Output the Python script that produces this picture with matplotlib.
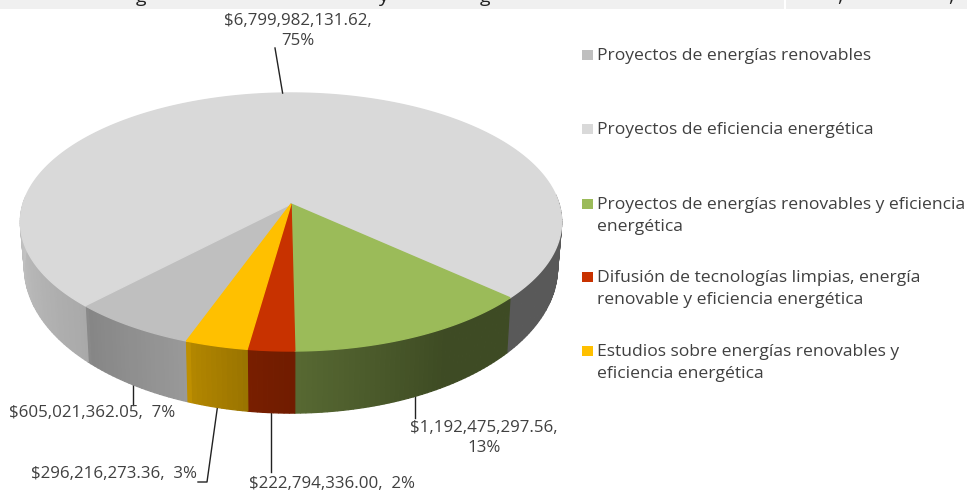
import numpy as np
import matplotlib
matplotlib.use('Agg')
import matplotlib.pyplot as plt
from matplotlib.patches import Rectangle
from matplotlib.colors import to_rgb

plt.rcParams['font.family'] = ['Open Sans', 'DejaVu Sans']

names = ['Proyectos de energías renovables',
         'Proyectos de eficiencia energética',
         'Proyectos de energías renovables y eficiencia\nenergética',
         'Difusión de tecnologías limpias, energía\nrenovable y eficiencia energética',
         'Estudios sobre energías renovables y\neficiencia energética']
values = [605021362.05, 6799982131.62, 1192475297.56, 222794336.00, 296216273.36]
labels = ['$605,021,362.05,  7%', '$6,799,982,131.62,\n75%', '$1,192,475,297.56,\n13%',
          '$222,794,336.00,  2%', '$296,216,273.36,  3%']
colors = ['#BFBFBF', '#D9D9D9', '#9BBB59', '#C83200', '#FFC000']

# pie geometry in pixels
cx, cy = 291, 204
b, a, k = 268, 126.5, 0.1395
start = 199.8   # clockwise from the back

# side brightness against angle
shade_ang = [80, 105, 132, 133, 150, 179, 188, 199, 200, 223, 224, 270, 285]
shade_val = [.42, .41, .41, .40, .40, .56, .60, .70, .80, .70, .78, .90, .90]


def top_xy(deg):
    t = np.radians(deg)
    u, v = np.sin(t), np.cos(t)
    return cx + b * u / (1 + k * v), cy - a * v / (1 + k * v)


def bot_xy(deg):
    x, y = top_xy(deg)
    return cx + (x - cx) * .985, cy + 43 + (y - cy) * 1.13


fig = plt.figure(figsize=(9.67, 4.93), dpi=100)
ax = fig.add_axes([0, 0, 1, 1])
ax.set_xlim(0, 967)
ax.set_ylim(493, 0)
ax.axis('off')

# strip of the page above the chart
ax.add_patch(Rectangle((0, 0), 784, 9, fc='#F0F0F0', ec='none'))
ax.add_patch(Rectangle((786, 0), 181, 9, fc='#F0F0F0', ec='none'))
for x, s in [(141, 'g'), (383, 'y'), (485, 'g'), (840, ','), (951, ',')]:
    ax.text(x, 2, s, fontsize=14, color='#222222', ha='center', va='baseline', clip_on=True)

sweeps = np.array(values) / sum(values) * 360
edges = start + np.concatenate([[0], np.cumsum(sweeps)])

# sides, then top
for i in range(len(values)):
    a0, a1 = edges[i], edges[i + 1]
    steps = np.arange(a0, a1, 1.0)
    steps = np.append(steps, a1)
    for s0, s1 in zip(steps[:-1], steps[1:]):
        m = ((s0 + s1) / 2) % 360
        if m < 86 or m > 274:
            continue
        f = np.interp(m, shade_ang, shade_val)
        c = tuple(np.array(to_rgb(colors[i])) * f)
        tx0, ty0 = top_xy(s0)
        tx1, ty1 = top_xy(s1)
        bx0, by0 = bot_xy(s0)
        bx1, by1 = bot_xy(s1)
        ax.fill([tx0, tx1, bx1, bx0], [ty0, ty1, by1, by0], fc=c, ec=c, lw=.9, zorder=2)

for i in range(len(values)):
    th = np.linspace(edges[i], edges[i + 1], 200)
    x, y = top_xy(th)
    ax.fill(np.r_[cx, x], np.r_[cy, y], fc=colors[i], ec=colors[i], lw=1, zorder=3)

# leader lines start at the middle of each slice
mids = (edges[:-1] + edges[1:]) / 2
tx, ty = top_xy(mids[1])
ax.plot([tx, 275], [ty, 48], color='#222222', lw=1, zorder=4)
for i, end_y in [(0, 405), (2, 418), (3, 472)]:
    bx, by = bot_xy(mids[i])
    ax.plot([bx, bx], [by, end_y], color='#222222', lw=1, zorder=1)
bx, by = bot_xy(mids[4])
ax.plot([bx, 207, 198], [by, 482, 482], color='#222222', lw=1, zorder=1)

lab_pos = [(92, 413, 'center'), (298, 31, 'center'), (484, 438, 'center'),
           (332, 484, 'center'), (114, 474, 'center')]
for s, (x, y, ha) in zip(labels, lab_pos):
    ax.text(x, y, s, fontsize=12.2, color='#404040', ha=ha, va='center', linespacing=1.4,
            multialignment='center')

# legend
leg_y = [54, 128, 203, 276, 350]
for n, c, y in zip(names, colors, leg_y):
    ax.add_patch(Rectangle((582, y - 4.5), 10.5, 10.5, fc=c, ec='none'))
    ax.text(597, y - 6, n, fontsize=12.6, color='#404040', ha='left', va='top', linespacing=1.5)

fig.savefig('out.png', dpi=100)
